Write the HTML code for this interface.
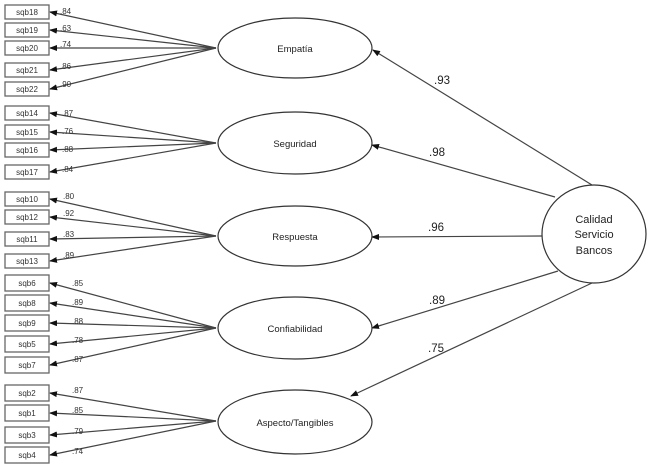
<!DOCTYPE html>
<html><head><meta charset="utf-8"><style>
html,body{margin:0;padding:0;background:#fff;}
svg{display:block;font-family:"Liberation Sans",sans-serif;}
</style></head><body>
<svg width="650" height="469" viewBox="0 0 650 469" xmlns="http://www.w3.org/2000/svg">
<defs>
<marker id="a" markerWidth="8" markerHeight="6" refX="7" refY="3" orient="auto" markerUnits="userSpaceOnUse">
<path d="M0,0 L8,3 L0,6 z" fill="#111"/></marker>
</defs>
<g stroke="#444" stroke-width="1.2" fill="none" marker-end="url(#a)">
<!-- group1 -->
<line x1="216" y1="48" x2="50" y2="12"/>
<line x1="216" y1="48" x2="50" y2="30"/>
<line x1="216" y1="48" x2="50" y2="48"/>
<line x1="216" y1="48" x2="50" y2="70"/>
<line x1="216" y1="48" x2="50" y2="89"/>
<!-- group2 -->
<line x1="216" y1="143" x2="50" y2="113"/>
<line x1="216" y1="143" x2="50" y2="132"/>
<line x1="216" y1="143" x2="50" y2="150"/>
<line x1="216" y1="143" x2="50" y2="172"/>
<!-- group3 -->
<line x1="216" y1="236" x2="50" y2="199"/>
<line x1="216" y1="236" x2="50" y2="217"/>
<line x1="216" y1="236" x2="50" y2="239"/>
<line x1="216" y1="236" x2="50" y2="261"/>
<!-- group4 -->
<line x1="216" y1="328" x2="50" y2="283"/>
<line x1="216" y1="328" x2="50" y2="303"/>
<line x1="216" y1="328" x2="50" y2="323"/>
<line x1="216" y1="328" x2="50" y2="344"/>
<line x1="216" y1="328" x2="50" y2="365"/>
<!-- group5 -->
<line x1="216" y1="421" x2="50" y2="393"/>
<line x1="216" y1="421" x2="50" y2="413"/>
<line x1="216" y1="421" x2="50" y2="435"/>
<line x1="216" y1="421" x2="50" y2="455"/>
<!-- structural -->
<line x1="592" y1="185" x2="373" y2="50"/>
<line x1="555" y1="197" x2="372" y2="145"/>
<line x1="542" y1="236" x2="372" y2="237"/>
<line x1="558" y1="271" x2="372" y2="328"/>
<line x1="592" y1="283" x2="351" y2="396"/>
</g>
<g stroke="#666" stroke-width="1.3" fill="#fff">
<rect x="5" y="5" width="44" height="14"/>
<rect x="5" y="23" width="44" height="14"/>
<rect x="5" y="41" width="44" height="14"/>
<rect x="5" y="63" width="44" height="14"/>
<rect x="5" y="82" width="44" height="14"/>
<rect x="5" y="106" width="44" height="14"/>
<rect x="5" y="125" width="44" height="14"/>
<rect x="5" y="143" width="44" height="14"/>
<rect x="5" y="165" width="44" height="14"/>
<rect x="5" y="192" width="44" height="14"/>
<rect x="5" y="210" width="44" height="14"/>
<rect x="5" y="232" width="44" height="14"/>
<rect x="5" y="254" width="44" height="14"/>
<rect x="5" y="275" width="44" height="16"/>
<rect x="5" y="295" width="44" height="16"/>
<rect x="5" y="315" width="44" height="16"/>
<rect x="5" y="336" width="44" height="16"/>
<rect x="5" y="357" width="44" height="16"/>
<rect x="5" y="385" width="44" height="16"/>
<rect x="5" y="405" width="44" height="16"/>
<rect x="5" y="427" width="44" height="16"/>
<rect x="5" y="447" width="44" height="16"/>
</g>
<g stroke="#333" stroke-width="1.2" fill="#fff">
<ellipse cx="295" cy="48" rx="77" ry="30"/>
<ellipse cx="295" cy="143" rx="77" ry="31"/>
<ellipse cx="295" cy="236" rx="77" ry="30"/>
<ellipse cx="295" cy="328" rx="77" ry="31"/>
<ellipse cx="295" cy="422" rx="77" ry="32"/>
<ellipse cx="594" cy="234" rx="52" ry="49"/>
</g>
<g font-size="8" fill="#333" text-anchor="middle">
<text x="27" y="15">sqb18</text><text x="27" y="33">sqb19</text><text x="27" y="51">sqb20</text>
<text x="27" y="73">sqb21</text><text x="27" y="92">sqb22</text>
<text x="27" y="116">sqb14</text><text x="27" y="135">sqb15</text><text x="27" y="153">sqb16</text><text x="27" y="175">sqb17</text>
<text x="27" y="202">sqb10</text><text x="27" y="220">sqb12</text><text x="27" y="242">sqb11</text><text x="27" y="264">sqb13</text>
<text x="27" y="286">sqb6</text><text x="27" y="306">sqb8</text><text x="27" y="326">sqb9</text><text x="27" y="347">sqb5</text><text x="27" y="368">sqb7</text>
<text x="27" y="396">sqb2</text><text x="27" y="416">sqb1</text><text x="27" y="438">sqb3</text><text x="27" y="458">sqb4</text>
</g>
<g font-size="8" fill="#333">
<text x="60" y="14">.84</text><text x="60" y="31">.63</text><text x="60" y="47">.74</text><text x="60" y="69">.86</text><text x="60" y="87">.90</text>
<text x="62" y="116">.87</text><text x="62" y="134">.76</text><text x="62" y="152">.88</text><text x="62" y="172">.84</text>
<text x="63" y="199">.80</text><text x="63" y="216">.92</text><text x="63" y="237">.83</text><text x="63" y="258">.89</text>
<text x="72" y="286">.85</text><text x="72" y="305">.89</text><text x="72" y="324">.88</text><text x="72" y="343">.78</text><text x="72" y="362">.87</text>
<text x="72" y="393">.87</text><text x="72" y="413">.85</text><text x="72" y="434">.79</text><text x="72" y="454">.74</text>
</g>
<g font-size="9.5" fill="#222" text-anchor="middle">
<text x="295" y="52">Empatía</text>
<text x="295" y="147">Seguridad</text>
<text x="295" y="240">Respuesta</text>
<text x="295" y="332">Confiabilidad</text>
<text x="295" y="426">Aspecto/Tangibles</text>
</g>
<g font-size="11" fill="#222" text-anchor="middle">
<text x="594" y="223">Calidad</text>
<text x="594" y="238">Servicio</text>
<text x="594" y="254">Bancos</text>
</g>
<g font-size="11.5" fill="#222" text-anchor="middle">
<text x="442" y="84">.93</text>
<text x="437" y="156">.98</text>
<text x="436" y="231">.96</text>
<text x="437" y="304">.89</text>
<text x="436" y="352">.75</text>
</g>
</svg>
</body></html>
